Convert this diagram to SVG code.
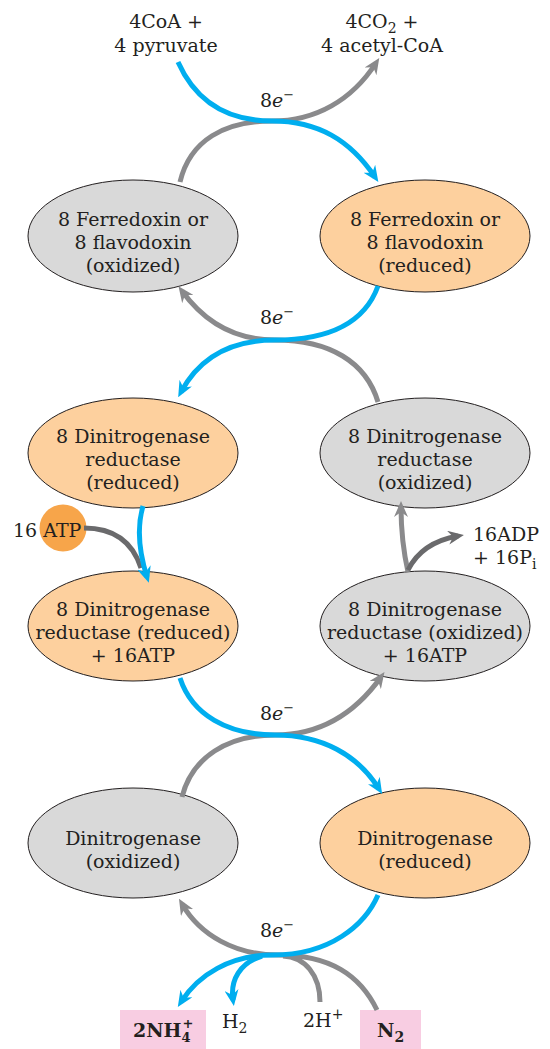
<svg xmlns="http://www.w3.org/2000/svg" width="550" height="1049" viewBox="0 0 550 1049">
<defs>
<style>
text{font-family:"DejaVu Serif","Liberation Serif",serif;font-size:19px;fill:#231F20}
.c{text-anchor:middle}
.b{font-weight:bold}
.ox{fill:#D9D9D9;stroke:#231F20;stroke-width:1}
.rd{fill:#FDD09E;stroke:#231F20;stroke-width:1}
.bl{fill:none;stroke:#00AEEF;stroke-width:5}
.gr{fill:none;stroke:#8A8A8C;stroke-width:5}
.dg{fill:none;stroke:#6A6A6C;stroke-width:5}
</style>
<marker id="ab" markerUnits="userSpaceOnUse" viewBox="0 0 16 14" markerWidth="16" markerHeight="14" refX="10" refY="7" orient="auto"><path d="M0,0 L16,7 L0,14 L5,7 z" fill="#00AEEF"/></marker>
<marker id="ag" markerUnits="userSpaceOnUse" viewBox="0 0 16 14" markerWidth="16" markerHeight="14" refX="10" refY="7" orient="auto"><path d="M0,0 L16,7 L0,14 L5,7 z" fill="#8A8A8C"/></marker>
<marker id="ad" markerUnits="userSpaceOnUse" viewBox="0 0 16 14" markerWidth="16" markerHeight="14" refX="10" refY="7" orient="auto"><path d="M0,0 L16,7 L0,14 L5,7 z" fill="#6A6A6C"/></marker>
</defs>

<g id="fd-ox"><ellipse class="ox" cx="133" cy="236" rx="105" ry="56"/>
<text class="c" x="133" y="226">8 Ferredoxin or</text><text class="c" x="133" y="249">8 flavodoxin</text><text class="c" x="133" y="272">(oxidized)</text></g>
<g id="fd-red"><ellipse class="rd" cx="425" cy="236" rx="105" ry="56"/>
<text class="c" x="425" y="226">8 Ferredoxin or</text><text class="c" x="425" y="249">8 flavodoxin</text><text class="c" x="425" y="272">(reduced)</text></g>
<g id="dr-red"><ellipse class="rd" cx="133" cy="453" rx="105" ry="55"/>
<text class="c" x="133" y="443">8 Dinitrogenase</text><text class="c" x="133" y="466">reductase</text><text class="c" x="133" y="489">(reduced)</text></g>
<g id="dr-ox"><ellipse class="ox" cx="425" cy="453" rx="105" ry="55"/>
<text class="c" x="425" y="443">8 Dinitrogenase</text><text class="c" x="425" y="466">reductase</text><text class="c" x="425" y="489">(oxidized)</text></g>
<g id="dr-red-atp"><ellipse class="rd" cx="133" cy="626" rx="105" ry="55"/>
<text class="c" x="133" y="616">8 Dinitrogenase</text><text class="c" x="133" y="639">reductase (reduced)</text><text class="c" x="133" y="662">+ 16ATP</text></g>
<g id="dr-ox-atp"><ellipse class="ox" cx="425" cy="626" rx="105" ry="55"/>
<text class="c" x="425" y="616">8 Dinitrogenase</text><text class="c" x="425" y="639">reductase (oxidized)</text><text class="c" x="425" y="662">+ 16ATP</text></g>
<g id="dn-ox"><ellipse class="ox" cx="133" cy="843" rx="105" ry="55"/>
<text class="c" x="133" y="845">Dinitrogenase</text><text class="c" x="133" y="868">(oxidized)</text></g>
<g id="dn-red"><ellipse class="rd" cx="425" cy="843" rx="105" ry="55"/>
<text class="c" x="425" y="845">Dinitrogenase</text><text class="c" x="425" y="868">(reduced)</text></g>

<g id="substrates">
<text class="c" x="166" y="28">4CoA +</text><text class="c" x="166" y="52">4 pyruvate</text>
<text class="c" x="382" y="28">4CO<tspan font-size="14" dy="5">2</tspan><tspan dy="-5"> +</tspan></text><text class="c" x="382" y="52">4 acetyl-CoA</text>
</g>
<g id="atp"><circle cx="63" cy="528" r="23.5" fill="#F7A54A"/><text x="13" y="537">16 ATP</text></g>
<g id="adp"><text x="473" y="541">16ADP</text><text x="473" y="564">+ 16P<tspan font-size="14" dy="5">i</tspan></text></g>
<g id="products">
<rect x="120" y="1010" width="86" height="39" fill="#F8CDE2"/>
<text class="b" x="133" y="1037">2NH<tspan font-size="13" dy="5">4</tspan><tspan font-size="13" dx="-8" dy="-14">+</tspan></text>
<text x="222" y="1028">H<tspan font-size="14" dy="5">2</tspan></text>
<text x="303" y="1027">2H<tspan font-size="14" dy="-8">+</tspan></text>
<rect x="360" y="1010" width="61" height="39" fill="#F8CDE2"/>
<text class="b" x="377" y="1037">N<tspan font-size="14" dy="5">2</tspan></text>
</g>

<g id="connectors">
<path class="gr" d="M180,182 C190,140 225,121 272,121 C316,121 352,100 376,63" marker-end="url(#ag)"/>
<path class="bl" d="M178,62 C195,100 225,121 272,121 C318,121 350,140 375,177" marker-end="url(#ab)"/>
<path class="gr" d="M378,402 C366,362 330,340 275,340 C232,340 203,320 182,291" marker-end="url(#ag)"/>
<path class="bl" d="M378,286 C365,322 330,340 275,340 C228,340 198,360 181,392" marker-end="url(#ab)"/>
<path class="dg" d="M84,528 C112,528 132,540 141,568"/>
<path class="bl" d="M143,506 C136,530 140,555 147,577" marker-end="url(#ab)"/>
<path class="gr" d="M408,572 C402,545 401,525 401,507" marker-end="url(#ag)"/>
<path class="dg" d="M408,570 C418,550 435,540 458,536" marker-end="url(#ad)"/>
<path class="gr" d="M182,797 C192,757 228,735 275,735 C322,735 356,712 381,677" marker-end="url(#ag)"/>
<path class="bl" d="M180,678 C192,715 228,735 275,735 C322,735 358,755 379,789" marker-end="url(#ab)"/>
<path class="gr" d="M377,1010 C360,975 330,955 278,955 C235,955 200,935 182,904" marker-end="url(#ag)"/>
<path class="gr" d="M320,1002 C320,975 305,957 283,956"/>
<path class="bl" d="M378,895 C365,925 330,955 273,955 C230,955 198,975 181,1002" marker-end="url(#ab)"/>
<path class="bl" d="M262,956 C240,963 230,980 233,1000" marker-end="url(#ab)"/>
</g>
<g id="labels">
<text x="260" y="107">8<tspan font-style="italic">e</tspan><tspan font-size="13" dy="-8">−</tspan></text>
<text x="260" y="324">8<tspan font-style="italic">e</tspan><tspan font-size="13" dy="-8">−</tspan></text>
<text x="260" y="720">8<tspan font-style="italic">e</tspan><tspan font-size="13" dy="-8">−</tspan></text>
<text x="260" y="937">8<tspan font-style="italic">e</tspan><tspan font-size="13" dy="-8">−</tspan></text>
</g>
</svg>
